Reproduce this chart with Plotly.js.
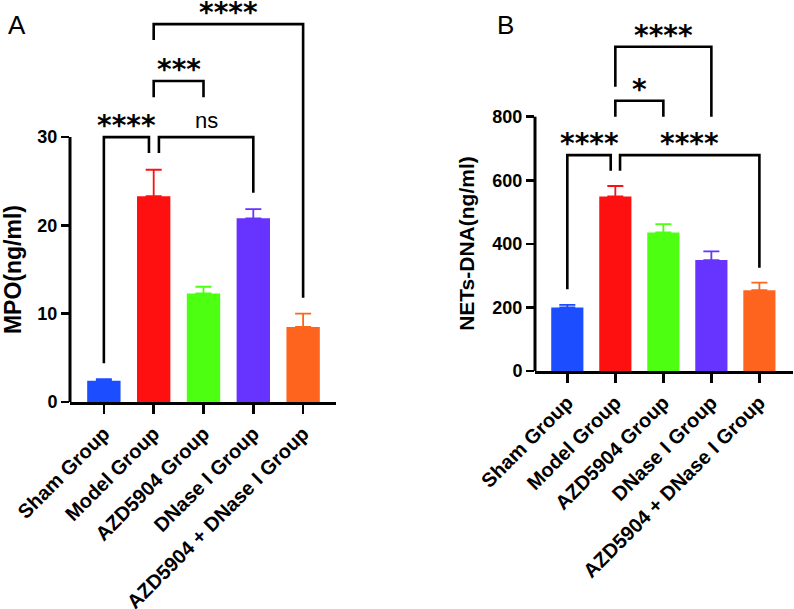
<!DOCTYPE html>
<html>
<head>
<meta charset="utf-8">
<script src="https://cdn.plot.ly/plotly-3.0.1.min.js"></script>
<style>
  html, body { margin: 0; padding: 0; background: #ffffff; }
  #chart { width: 794px; height: 609px; }
</style>
</head>
<body>
<div id="chart"></div>
<script>
// Group names shared by both panels
const categories = ['Sham Group', 'Model Group', 'AZD5904 Group', 'DNase I Group', 'AZD5904 + DNase I Group'];
const barColors = ['#1c4dff', '#ff1010', '#4dff10', '#6633ff', '#ff641e'];

// Panel A: MPO (ng/ml), mean and SEM
const mpoMean = [2.4, 23.3, 12.3, 20.8, 8.5];
const mpoSem = [0.2, 3.0, 0.75, 1.05, 1.5];
const mpoTicks = [0, 10, 20, 30];

// Panel B: NETs-DNA (ng/ml), mean and SEM
const netsMean = [200, 549, 436, 349, 254];
const netsSem = [8, 33, 26, 27, 24];
const netsTicks = [0, 200, 400, 600, 800];

// Pairwise comparisons (group indices) and significance labels
const mpoPairs = [[0, 1], [1, 3], [1, 2], [1, 4]];
const mpoLabels = ['****', 'ns', '***', '****'];
const netsPairs = [[0, 1], [1, 4], [1, 2], [1, 3]];
const netsLabels = ['****', '****', '*', '****'];

// Bracket geometry: bar height of the bracket, leg end heights, small x nudges
const mpoBracketGeom = [
  { top: 30.0, legs: [4.4, 28.2], nudge: [0, -0.095] },
  { top: 30.0, legs: [28.2, 23.7], nudge: [0.105, 0] },
  { top: 36.35, legs: [34.5, 34.5], nudge: [0, 0] },
  { top: 42.8, legs: [41.0, 11.8], nudge: [0, 0] }
];
const netsBracketGeom = [
  { top: 679, legs: [257, 630], nudge: [0, -0.096] },
  { top: 679, legs: [630, 325], nudge: [0.098, 0] },
  { top: 850, legs: [800, 800], nudge: [0, 0] },
  { top: 1020, legs: [894, 800], nudge: [0, 0] }
];

const W = 794, H = 609;
const FONT = 'Liberation Sans, Arial, sans-serif';
const STAR_FONT = 'DejaVu Sans, sans-serif';

// one bar per group so each error bar takes its bar's colour
function groupBars(means, sems, xa, ya) {
  return categories.map((c, i) => ({
    type: 'bar',
    x: [c],
    y: [means[i]],
    xaxis: xa,
    yaxis: ya,
    width: 0.67,
    marker: { color: barColors[i], line: { width: 0 } },
    error_y: {
      type: 'data', symmetric: false,
      array: [sems[i]], arrayminus: [0],
      color: barColors[i], thickness: 1.8, width: 8
    },
    showlegend: false,
    hoverinfo: 'x+y'
  }));
}

const traces = groupBars(mpoMean, mpoSem, 'x', 'y')
  .concat(groupBars(netsMean, netsSem, 'x2', 'y2'));

function bracketShapes(pairs, geom, xr, yr) {
  return pairs.map((p, k) => {
    const g = geom[k];
    const xa = p[0] + g.nudge[0];
    const xb = p[1] + g.nudge[1];
    return {
      type: 'path', xref: xr, yref: yr,
      path: `M ${xa},${g.legs[0]} L ${xa},${g.top} L ${xb},${g.top} L ${xb},${g.legs[1]}`,
      line: { color: '#000', width: 2.6 }
    };
  });
}

function bracketLabels(pairs, labels, geom, xr, yr) {
  return pairs.map((p, k) => {
    const g = geom[k];
    const mid = (p[0] + g.nudge[0] + p[1] + g.nudge[1]) / 2;
    const isStar = labels[k].indexOf('*') >= 0;
    return {
      xref: xr, yref: yr, x: mid, y: g.top,
      text: labels[k], showarrow: false,
      xanchor: 'center', yanchor: 'bottom',
      yshift: isStar ? -7 : 2,
      font: isStar ? { family: STAR_FONT, size: 28, color: '#000', weight: 'bold' }
                   : { family: FONT, size: 22, color: '#000' }
    };
  });
}

// y axis lines stop at the last tick, drawn as shapes
function yAxisLine(xr, yr, ticks) {
  return {
    type: 'line', xref: xr + ' domain', yref: yr,
    x0: 0, x1: 0, y0: ticks[0], y1: ticks[ticks.length - 1],
    line: { color: '#000', width: 3 }
  };
}

const tickFont = { family: FONT, size: 18, color: '#000', weight: 'bold' };
const catFont = { family: FONT, size: 20, color: '#000', weight: 'bold' };

const xCommon = {
  type: 'category',
  showline: true, linecolor: '#000', linewidth: 3,
  ticks: 'outside', ticklen: 9, tickwidth: 2.5, tickcolor: '#000',
  tickangle: -45, tickfont: catFont,
  showgrid: false, zeroline: false, fixedrange: true
};
const yCommon = {
  showline: false, ticks: 'outside', ticklen: 8, tickwidth: 2.5, tickcolor: '#000',
  tickfont: tickFont, showgrid: false, zeroline: false, fixedrange: true
};

// pixel placement of the two panels
const A = { left: 70, right: 336, zeroY: 402, pxPerUnit: 8.83 };
const B = { left: 535, right: 793, zeroY: 371, pxPerUnit: 0.3179 };

const layout = {
  width: W, height: H,
  margin: { l: 0, r: 0, t: 0, b: 0, pad: 0 },
  paper_bgcolor: '#fff', plot_bgcolor: 'rgba(0,0,0,0)',
  barmode: 'overlay',
  xaxis: Object.assign({}, xCommon, {
    domain: [A.left / W, A.right / W], anchor: 'y', range: [-0.68, 4.66]
  }),
  yaxis: Object.assign({}, yCommon, {
    domain: [(H - A.zeroY) / H, 1], anchor: 'x',
    range: [0, A.zeroY / A.pxPerUnit], tickvals: mpoTicks
  }),
  xaxis2: Object.assign({}, xCommon, {
    domain: [B.left / W, B.right / W], anchor: 'y2', range: [-0.673, 4.7]
  }),
  yaxis2: Object.assign({}, yCommon, {
    domain: [(H - B.zeroY) / H, 1], anchor: 'x2',
    range: [0, B.zeroY / B.pxPerUnit], tickvals: netsTicks
  }),
  shapes: [
    yAxisLine('x', 'y', mpoTicks),
    yAxisLine('x2', 'y2', netsTicks)
  ].concat(bracketShapes(mpoPairs, mpoBracketGeom, 'x', 'y'))
   .concat(bracketShapes(netsPairs, netsBracketGeom, 'x2', 'y2')),
  annotations: [
    { xref: 'paper', yref: 'paper', x: 17 / W, y: 1 - 25 / H, text: 'A', showarrow: false,
      xanchor: 'center', yanchor: 'middle', font: { family: FONT, size: 26, color: '#000' } },
    { xref: 'paper', yref: 'paper', x: 505 / W, y: 1 - 25 / H, text: 'B', showarrow: false,
      xanchor: 'center', yanchor: 'middle', font: { family: FONT, size: 26, color: '#000' } },
    { xref: 'paper', yref: 'y', x: 12.5 / W, y: (mpoTicks[0] + mpoTicks[mpoTicks.length - 1]) / 2,
      text: 'MPO(ng/ml)', textangle: -90, showarrow: false, xanchor: 'center', yanchor: 'middle',
      font: { family: FONT, size: 23, color: '#000', weight: 'bold' } },
    { xref: 'paper', yref: 'y2', x: 467 / W, y: (netsTicks[0] + netsTicks[netsTicks.length - 1]) / 2,
      text: 'NETs-DNA(ng/ml)', textangle: -90, showarrow: false, xanchor: 'center', yanchor: 'middle',
      font: { family: FONT, size: 21, color: '#000', weight: 'bold' } }
  ].concat(bracketLabels(mpoPairs, mpoLabels, mpoBracketGeom, 'x', 'y'))
   .concat(bracketLabels(netsPairs, netsLabels, netsBracketGeom, 'x2', 'y2'))
};

Plotly.newPlot('chart', traces, layout, { displayModeBar: false, staticPlot: true });
</script>
</body>
</html>
